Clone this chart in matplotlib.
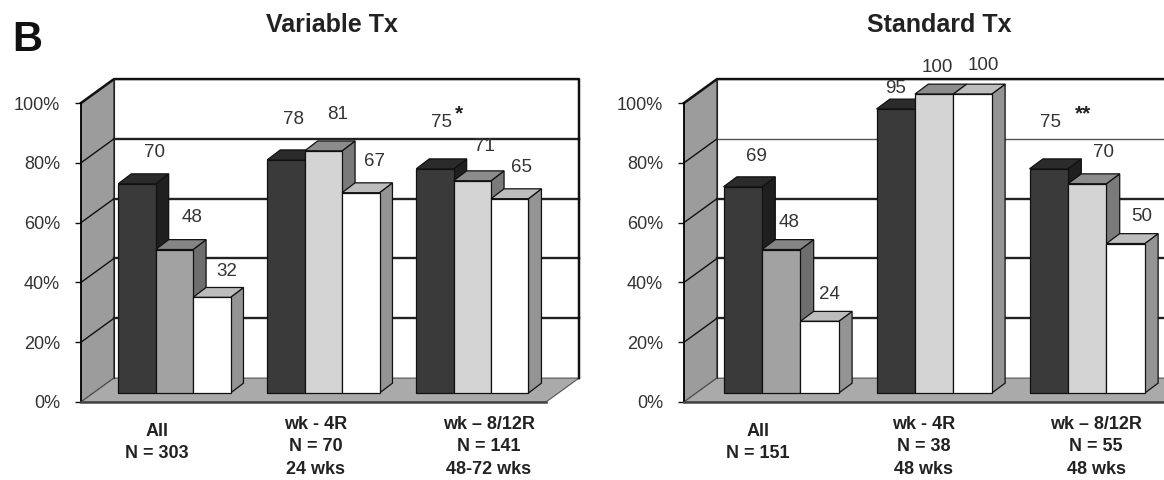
import matplotlib
matplotlib.use('Agg')
import matplotlib.pyplot as plt

plt.rcParams['font.family'] = ['Liberation Sans', 'DejaVu Sans']

titles = ['Variable Tx', 'Standard Tx']
tick_values = [0, 20, 40, 60, 80, 100]
tick_labels = ['0%', '20%', '40%', '60%', '80%', '100%']

variable_all = [70, 48, 32]
variable_4r = [78, 81, 67]
variable_8r = [75, 71, 65]
standard_all = [69, 48, 24]
standard_4r = [95, 100, 100]
standard_8r = [75, 70, 50]

variable_names = ['All\nN = 303', 'wk - 4R\nN = 70\n24 wks', 'wk \u2013 8/12R\nN = 141\n48-72 wks']
standard_names = ['All\nN = 151', 'wk - 4R\nN = 38\n48 wks', 'wk \u2013 8/12R\nN = 55\n48 wks']

# label offsets in pixels from top centre of each bar
variable_offsets = [[(17, 31), (18, 32), (15, 26)],
                    [(7, 40), (14, 36), (14, 31)],
                    [(6, 46), (12, 34), (12, 31)]]
standard_offsets = [[(14, 30), (8, 27), (10, 27)],
                    [(0, 20), (3, 27), (11, 29)],
                    [(2, 46), (16, 31), (16, 27)]]

# face, side, top colours for each bar
dark = ('#3a3a3a', '#1f1f1f', '#2b2b2b')
mid = ('#a2a2a2', '#6e6e6e', '#858585')
light = ('#d4d4d4', '#7a7a7a', '#8c8c8c')
white = ('#ffffff', '#949494', '#bdbdbd')
group_colors = [[dark, mid, white], [dark, light, white], [dark, light, white]]

bar_w = 0.251
bar_base = 3.0
bar_dx = 0.087
bar_dy = 3.3
wall_dy = 8.0
edge = '#111111'
text_col = '#333333'


def draw_panel(ax, groups, names, offsets, xlim, wall_dx, name_x, title, title_x, stars, star_pos, top_grid):
    xl, xr = xlim
    ax.set_xlim(xl, xr)
    ax.set_ylim(0, 100)
    ax.patch.set_visible(False)

    # side wall, back wall and floor
    ax.fill([xl, xl + wall_dx, xl + wall_dx, xl], [0, wall_dy, 100 + wall_dy, 100],
            facecolor='#9c9c9c', edgecolor=edge, lw=0.8, clip_on=False, zorder=1)
    ax.fill([xl + wall_dx, xr + wall_dx, xr + wall_dx, xl + wall_dx],
            [wall_dy, wall_dy, 100 + wall_dy, 100 + wall_dy],
            facecolor='white', edgecolor='none', clip_on=False, zorder=1)
    ax.fill([xl, xr, xr + wall_dx, xl + wall_dx], [0, 0, wall_dy, wall_dy],
            facecolor='#aaaaaa', edgecolor='#555555', lw=0.8, clip_on=False, zorder=2)

    for v in tick_values[1:-1]:
        col, lw = top_grid if v == 80 else ('#222222', 1.7)
        ax.plot([xl + wall_dx, xr + wall_dx], [v + wall_dy, v + wall_dy], color=col, lw=lw,
                clip_on=False, zorder=2)
        ax.plot([xl, xl + wall_dx], [v, v + wall_dy], color='#111111', lw=1.0, clip_on=False, zorder=2)
    ax.plot([xl, xl + wall_dx, xr + wall_dx, xr + wall_dx], [100, 100 + wall_dy, 100 + wall_dy, wall_dy],
            color='#111111', lw=1.8, clip_on=False, zorder=2)
    ax.plot([xl + wall_dx, xl + wall_dx], [wall_dy, 100 + wall_dy], color='#222222', lw=0.8,
            clip_on=False, zorder=2)

    z = 3
    for g, vals in enumerate(groups):
        for i, v in enumerate(vals):
            x0 = g - 1.5 * bar_w + i * bar_w
            x1 = x0 + bar_w
            top = bar_base + v
            face, side, cap = group_colors[g][i]
            ax.fill([x1, x1 + bar_dx, x1 + bar_dx, x1],
                    [bar_base, bar_base + bar_dy, top + bar_dy, top],
                    facecolor=side, edgecolor=edge, lw=0.9, clip_on=False, zorder=z)
            ax.fill([x0, x1, x1 + bar_dx, x0 + bar_dx], [top, top, top + bar_dy, top + bar_dy],
                    facecolor=cap, edgecolor=edge, lw=0.9, clip_on=False, zorder=z)
            ax.bar(x0, v, bar_w, bottom=bar_base, align='edge', color=face, edgecolor=edge, lw=0.9,
                   clip_on=False, zorder=z + 0.5)
            ax.annotate(str(v), xy=(x0 + bar_w / 2, top), xytext=offsets[g][i], textcoords='offset pixels',
                        ha='center', va='center', fontsize=13.5, color=text_col, zorder=20,
                        annotation_clip=False)
            z += 1

    ax.annotate(stars, xy=star_pos, xycoords='data', ha='center', va='center', fontsize=15,
                fontweight='bold', color='#222222', zorder=20, annotation_clip=False)

    for x, name in zip(name_x, names):
        y = -13.5 if name.startswith('All') else -15
        ax.text(x, y, name, ha='center', va='center', fontsize=13, fontweight='bold',
                color='#222222', linespacing=1.4, clip_on=False)

    ax.set_xticks([])
    ax.set_yticks(tick_values)
    ax.set_yticklabels(tick_labels, fontsize=13, color=text_col)
    ax.tick_params(axis='y', length=4, width=1.0, pad=11, color='#111111')
    for s in ['top', 'right']:
        ax.spines[s].set_visible(False)
    ax.spines['left'].set_linewidth(1.2)
    ax.spines['left'].set_zorder(2.5)
    ax.spines['bottom'].set_linewidth(1.8)
    ax.spines['bottom'].set_color('#444444')
    ax.spines['bottom'].set_zorder(2.5)
    ax.text(title_x, 1.26, title, transform=ax.transAxes, ha='center', va='center',
            fontsize=18, fontweight='bold', color='#222222', clip_on=False)


W, H = 1164, 480
fig = plt.figure(figsize=(W / 100, H / 100), dpi=100, facecolor='white')
ax1 = fig.add_axes([81 / W, (H - 402) / H, 465 / W, 299 / H])
ax2 = fig.add_axes([684 / W, (H - 402) / H, 482 / W, 299 / H])

draw_panel(ax1, [variable_all, variable_4r, variable_8r], variable_names, variable_offsets,
           (-0.627, 2.494), 0.2215, [-0.117, 0.95, 2.11], titles[0], 0.54,
           '*', (1.909, 96.5), ('#222222', 1.7))
draw_panel(ax2, [standard_all, standard_4r, standard_8r], standard_names, standard_offsets,
           (-0.635, 2.515), 0.2157, [-0.15, 0.93, 2.058], titles[1], 0.53,
           '**', (1.973, 96.5), ('#555555', 1.0))

fig.text(27 / W, 1 - 40 / H, 'B', fontsize=30, fontweight='bold', color='#111111', ha='center', va='center')

plt.savefig('out.png', dpi=100)
